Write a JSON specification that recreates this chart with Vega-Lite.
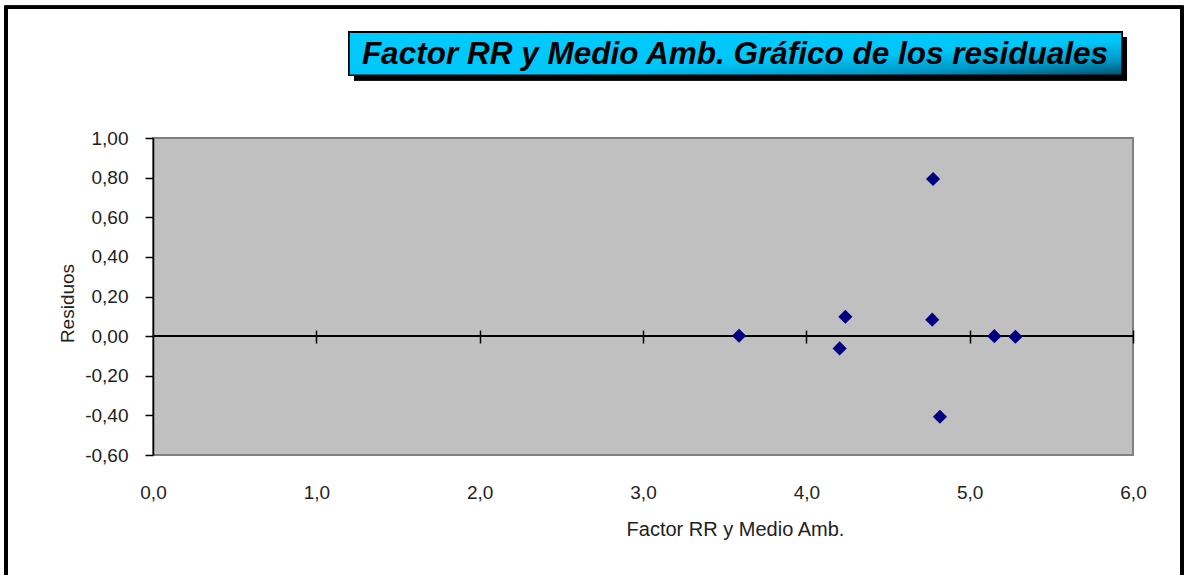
{
  "$schema": "https://vega.github.io/schema/vega-lite/v6.json",
  "width": 980,
  "height": 317,
  "autosize": {"type": "none"},
  "padding": {"left": 153, "top": 138, "right": 51, "bottom": 120},
  "background": "white",
  "title": {
    "text": "Factor RR y Medio Amb. Gráfico de los residuales",
    "frame": "group",
    "anchor": "middle",
    "dx": 92,
    "offset": -90,
    "baseline": "alphabetic",
    "font": "Liberation Sans",
    "fontSize": 31.5,
    "fontStyle": "italic",
    "fontWeight": "bold",
    "color": "#000000"
  },
  "config": {
    "locale": {"number": {"decimal": ",", "thousands": ".", "grouping": [3], "currency": ["", " €"], "minus": "-"}},
    "view": {"fill": "#C0C0C0", "stroke": "#808080", "strokeWidth": 2},
    "axis": {"labelFont": "Liberation Sans", "titleFont": "Liberation Sans", "labelColor": "#222222", "titleColor": "#222222", "grid": false, "labelOverlap": false, "labelFlush": false}
  },
  "data": {"values": [
    {"factor": 3.588, "residuo": 0.002},
    {"factor": 4.239, "residuo": 0.098},
    {"factor": 4.204, "residuo": -0.062},
    {"factor": 4.776, "residuo": 0.793},
    {"factor": 4.771, "residuo": 0.083},
    {"factor": 4.818, "residuo": -0.407},
    {"factor": 5.151, "residuo": 0.0},
    {"factor": 5.280, "residuo": -0.003}
  ]},
  "resolve": {"axis": {"x": "independent", "y": "independent"}},
  "layer": [
    {
      "mark": {"type": "rect", "fill": null, "stroke": "#000000", "strokeWidth": 3},
      "encoding": {
        "x": {"datum": -0.9, "scale": {"domain": [0, 6], "nice": false, "zero": false},
          "axis": {"orient": "bottom", "offset": -125, "values": [1, 2, 3, 4, 5, 6], "domain": false, "labels": false, "ticks": true, "tickSize": 13, "tickColor": "#000000", "tickWidth": 1.5, "title": null}},
        "x2": {"datum": 6.3},
        "y": {"datum": 1.66, "scale": {"domain": [-0.6, 1.0], "nice": false, "zero": false}, "axis": null},
        "y2": {"datum": -1.5}
      }
    },
    {
      "mark": {"type": "rect", "fill": "#000000"},
      "encoding": {
        "x": {"datum": 1.2306, "scale": {"domain": [0, 6], "nice": false, "zero": false}, "axis": null},
        "x2": {"datum": 5.9633},
        "y": {"datum": 1.509, "scale": {"domain": [-0.6, 1.0], "nice": false, "zero": false}, "axis": null},
        "y2": {"datum": 1.292}
      }
    },
    {
      "mark": {"type": "rect", "stroke": "#000000", "strokeWidth": 1.5,
        "fill": {"gradient": "linear", "x1": 0, "y1": 0, "x2": 1, "y2": 1,
          "stops": [{"offset": 0, "color": "#00CCFF"}, {"offset": 0.6, "color": "#00C6F8"}, {"offset": 0.82, "color": "#0098C8"}, {"offset": 1, "color": "#00506E"}]}},
      "encoding": {
        "x": {"datum": 1.2, "scale": {"domain": [0, 6], "nice": false, "zero": false}, "axis": null},
        "x2": {"datum": 5.933},
        "y": {"datum": 1.534, "scale": {"domain": [-0.6, 1.0], "nice": false, "zero": false}, "axis": null},
        "y2": {"datum": 1.317}
      }
    },
    {
      "mark": {"type": "rule", "color": "#000000", "strokeWidth": 1.5},
      "encoding": {
        "y": {"datum": 0, "scale": {"domain": [-0.6, 1.0], "nice": false, "zero": false}, "axis": null}
      }
    },
    {
      "mark": {"type": "point", "shape": "diamond", "filled": true, "size": 200, "color": "#000080", "opacity": 1},
      "encoding": {
        "x": {"field": "factor", "type": "quantitative",
          "scale": {"domain": [0, 6], "nice": false, "zero": false},
          "axis": {"orient": "bottom", "values": [0, 1, 2, 3, 4, 5, 6], "format": ".1f", "domain": false, "ticks": false, "labelPadding": 28, "labelFontSize": 19, "labelOverlap": false, "labelFlush": false,
            "title": "Factor RR y Medio Amb.", "titleFontSize": 20, "titleFontWeight": "normal", "titleX": 582, "titleY": 80, "titleBaseline": "alphabetic", "titleAlign": "center", "titleAnchor": null}},
        "y": {"field": "residuo", "type": "quantitative",
          "scale": {"domain": [-0.6, 1.0], "nice": false, "zero": false},
          "axis": {"orient": "left", "values": [-0.6, -0.4, -0.2, 0, 0.2, 0.4, 0.6, 0.8, 1.0], "format": ".2f", "domain": true, "domainColor": "#000000", "domainWidth": 1.5, "ticks": true, "tickSize": 8, "tickColor": "#000000", "tickWidth": 1.5, "labelPadding": 17, "labelFontSize": 19, "labelOverlap": false, "labelFlush": false,
            "title": "Residuos", "titleFontSize": 19, "titleFontWeight": "normal", "titleX": -80, "titleY": 165, "titleAngle": -90, "titleBaseline": "alphabetic", "titleAlign": "center", "titleAnchor": null}}
      }
    }
  ]
}
